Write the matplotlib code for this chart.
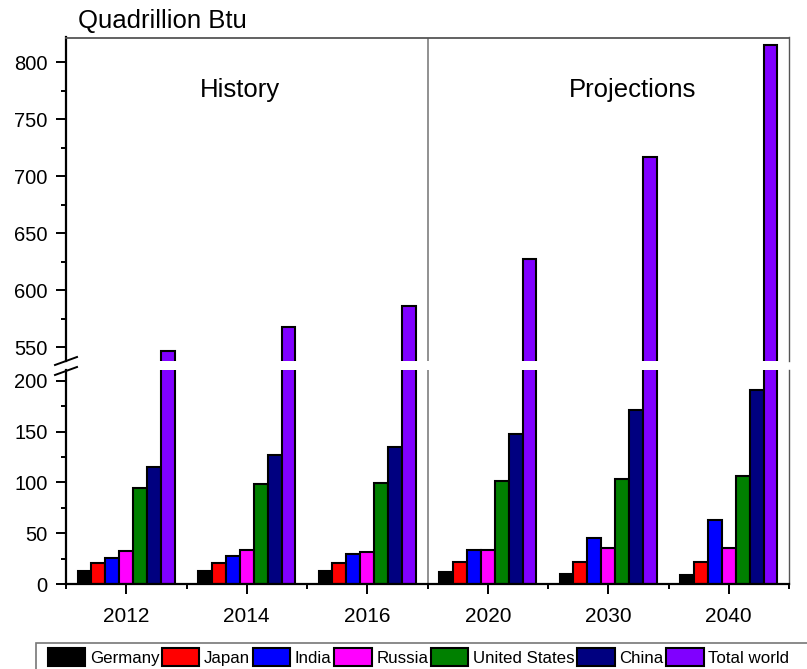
import matplotlib.pyplot as plt
import numpy as np
from matplotlib.lines import Line2D
from matplotlib.patches import Rectangle
from matplotlib.ticker import MultipleLocator

plt.rcParams['font.family'] = ['Liberation Sans', 'DejaVu Sans']

years = ['2012', '2014', '2016', '2020', '2030', '2040']
countries = ['Germany', 'Japan', 'India', 'Russia', 'United States', 'China', 'Total world']
germany = [13, 13, 13, 12, 10, 8.5]
japan = [21, 20.5, 21, 22, 22, 21.5]
india = [26, 27.5, 29.5, 33, 45, 62.5]
russia = [32, 33, 31.5, 33, 35, 35]
united_states = [94.5, 98.5, 99, 101, 103, 106]
china = [115, 126.5, 134.5, 147.5, 171, 190.5]
total_world = [547, 567.5, 586.5, 627.5, 717, 815.5]
colors = ['#000000', '#ff0000', '#0000ff', '#ff00ff', '#008000', '#000080', '#8000ff']

series = [germany, japan, india, russia, united_states, china, total_world]

W, H = 807, 669
fig = plt.figure(figsize=(W / 100, H / 100), dpi=100)

def fx(px):
    return px / W

def fy(py):
    return 1 - py / H

left, right = 66, 789
ax_top = fig.add_axes([fx(left), fy(361), fx(right - left), fy(37.5) - fy(361)])
ax_bot = fig.add_axes([fx(left), fy(584), fx(right - left), fy(370) - fy(584)])

x = np.arange(len(years))
bw = 0.1154
for k, (vals, c, name) in enumerate(zip(series, colors, countries)):
    pos = x - 3.5 * bw + (k + 0.5) * bw
    for a in (ax_top, ax_bot):
        a.bar(pos, vals, width=bw, color=c, edgecolor='black', linewidth=1.5, label=name)

ax_top.set_ylim(538, 821.8)
ax_bot.set_ylim(0, 210.5)
for a in (ax_top, ax_bot):
    a.set_xlim(-0.5, 5.5)
    a.yaxis.set_major_locator(MultipleLocator(50))
    a.yaxis.set_minor_locator(MultipleLocator(25))
    a.tick_params(axis='y', which='major', direction='out', length=7.2, width=1.4,
                  labelsize=14.5, pad=6)
    a.tick_params(axis='y', which='minor', direction='out', length=3.6, width=1.4)
    a.spines['left'].set_linewidth(1.6)
    a.spines['right'].set_color('#555555')
    a.spines['right'].set_linewidth(1.0)
    a.axvline(2.5, color='#888888', linewidth=1.3, zorder=0.5)

ax_top.spines['bottom'].set_visible(False)
ax_top.spines['top'].set_color('#555555')
ax_top.spines['top'].set_linewidth(1.3)
ax_top.tick_params(axis='x', which='both', bottom=False, labelbottom=False)
ax_top.set_yticks([550, 600, 650, 700, 750, 800])

ax_bot.spines['top'].set_visible(False)
ax_bot.spines['bottom'].set_linewidth(1.6)
ax_bot.set_xticks(x)
ax_bot.set_xticklabels(years)
ax_bot.set_xticks(np.arange(-0.5, 6.0, 1.0), minor=True)
ax_bot.tick_params(axis='x', which='major', direction='out', length=7.2, width=1.4,
                   labelsize=15, pad=9)
ax_bot.tick_params(axis='x', which='minor', direction='out', length=3.6, width=1.4)

# break marks on the left axis
for yc in (361, 371):
    fig.add_artist(Line2D([fx(55), fx(77)], [fy(yc + 4), fy(yc - 4)],
                          color='black', linewidth=1.4))

fig.text(fx(78), fy(21), 'Quadrillion Btu', fontsize=18.5, va='center', ha='left')
fig.text(fx(240), fy(90), 'History', fontsize=18.5, va='center', ha='center')
fig.text(fx(633), fy(90), 'Projections', fontsize=18.5, va='center', ha='center')

# legend box running off the bottom and right edges
fig.add_artist(Rectangle((fx(36), fy(680)), fx(790), fy(643) - fy(680),
                         facecolor='white', edgecolor='#777777', linewidth=1.2))
handles, labels = ax_bot.get_legend_handles_labels()
fig.legend(handles, labels, loc='upper left', bbox_to_anchor=(fx(46), fy(646)),
           ncol=7, frameon=False, fontsize=12.2, handlelength=2.2, handleheight=1.3,
           handletextpad=0.28, columnspacing=0.16, borderpad=0.1, borderaxespad=0)

fig.savefig('out.png', dpi=100)
